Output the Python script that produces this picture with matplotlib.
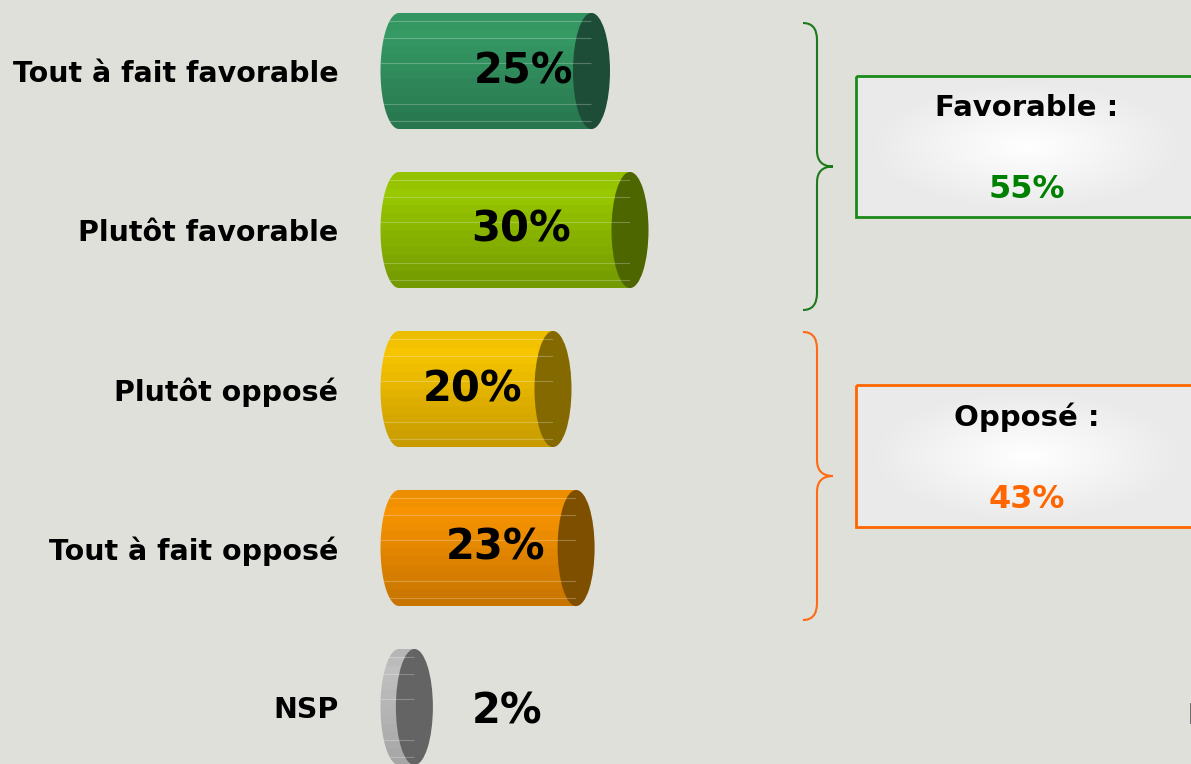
import numpy as np
import matplotlib.pyplot as plt
from matplotlib.path import Path
from matplotlib.patches import PathPatch, Rectangle, Ellipse
from matplotlib.colors import to_rgb

categories = ["Tout à fait favorable", "Plutôt favorable", "Plutôt opposé",
              "Tout à fait opposé", "NSP"]
values = [25, 30, 20, 23, 2]
# where the % label sits inside each bar (in % units)
label_x = [16.2, 15.8, 9.5, 12.6, 14.0]

light = ["#37a068", "#9fd000", "#ffcc00", "#ff9900", "#c4c4c4"]
dark = ["#28764e", "#739a00", "#c89c00", "#c87400", "#a6a6a6"]
face = ["#1d4d37", "#4d6600", "#846900", "#7f4f00", "#646464"]

groups = [("Favorable :", [0, 1], "#008000", "#1a7a1a"),
          ("Opposé :", [2, 3], "#ff6600", "#ff6a10")]

bg = "#e0e0db"
W, H = 1191, 764
px_per = 7.7          # pixels per percent
x0_px = 399           # pixel of 0%
row_px = [71, 230, 389, 548, 707]

fig = plt.figure(figsize=(W / 100, H / 100), dpi=100)
fig.patch.set_facecolor(bg)

# bar axes
ax_left = 360
ax = fig.add_axes([ax_left / W, 0, 1 - ax_left / W, 1])
ax.set_facecolor("none")
ax.set_xlim((ax_left - x0_px) / px_per, (W - x0_px) / px_per)
ax.set_ylim((H - row_px[0]) / 159.0, (0 - row_px[0]) / 159.0)
for s in ax.spines.values():
    s.set_visible(False)
ax.set_xticks([])
ax.set_yticks(range(len(categories)), labels=categories,
              fontsize=20.5, fontweight="bold")
ax.tick_params(axis="y", length=0, pad=15.5)

a = 18.5 / px_per     # half width of end ellipse, data units
b = 0.365             # half height of bar
n_strips = 14

for i, v in enumerate(values):
    yc = i
    t = np.linspace(-np.pi / 2, np.pi / 2, 40)
    pts = list(zip(-a * np.cos(t), yc + b * np.sin(t)))
    pts += [(v, yc + b), (v, yc - b), pts[0]]
    body = PathPatch(Path(pts), facecolor="none", edgecolor="none",
                     transform=ax.transData)
    ax.add_patch(body)
    c1 = np.array(to_rgb(light[i]))
    c2 = np.array(to_rgb(dark[i]))
    h = 2 * b / n_strips
    for k in range(n_strips):
        f = k / (n_strips - 1)
        col = c1 * (1 - f) + c2 * f
        if k < 2:
            col = col * (0.93 + 0.035 * k)
        r = Rectangle((-a - 0.5, yc - b + k * h), v + a + 1, h,
                      facecolor=np.clip(col, 0, 1), edgecolor="none")
        ax.add_patch(r)
        r.set_clip_path(body)
        if k in (1, 3, 6, 11, 13):
            ln, = ax.plot([-a, v], [yc - b + k * h] * 2, color="white",
                          lw=0.8, alpha=0.25)
            ln.set_clip_path(body)
    ax.add_patch(Ellipse((v, yc), 2 * a, 2 * b, facecolor=face[i],
                         edgecolor="none"))
    dy = 0.03 if i == 4 else 0
    ax.text(label_x[i], yc + dy, f"{v}%", ha="center", va="center",
            fontsize=30, fontweight="bold", color="black")

# overlay in pixel coordinates for braces and summary boxes
ov = fig.add_axes([0, 0, 1, 1])
ov.set_xlim(0, W)
ov.set_ylim(H, 0)
ov.axis("off")
ov.set_facecolor("none")


def brace(top, bot, color):
    mid = (top + bot) / 2
    verts = [(803, top), (817, top), (817, top + 17),
             (817, mid - 16),
             (817, mid), (833, mid),
             (817, mid), (817, mid + 16),
             (817, bot - 17),
             (817, bot), (803, bot)]
    codes = [Path.MOVETO, Path.CURVE3, Path.CURVE3, Path.LINETO,
             Path.CURVE3, Path.CURVE3, Path.CURVE3, Path.CURVE3,
             Path.LINETO, Path.CURVE3, Path.CURVE3]
    ov.add_patch(PathPatch(Path(verts, codes), facecolor="none",
                           edgecolor=color, lw=1.5))


gx = np.linspace(-1, 1, 200)
gy = np.linspace(-1, 1, 80)
GX, GY = np.meshgrid(gx, gy)
rad = np.clip(np.sqrt((GX / 0.9) ** 2 + (GY / 0.9) ** 2), 0, 1)
grad = 1.0 - 0.08 * rad
img = np.dstack([grad, grad, grad])

brace_rows = [(23, 310), (332, 620)]
box_rows = [(76, 217), (385, 527)]
for (title, idx, tcol, bcol), (bt, bb), (yt, yb) in zip(groups, brace_rows, box_rows):
    brace(bt, bb, bcol)
    ov.imshow(img, extent=(856, 1198, yb, yt), aspect="auto", zorder=1)
    ov.add_patch(Rectangle((856, yt), 342, yb - yt, facecolor="none",
                           edgecolor=tcol if tcol != "#008000" else "#1a8a1a",
                           lw=2, zorder=2))
    total = sum(values[j] for j in idx)
    ov.text(1027, yt + 32, title, ha="center", va="center", fontsize=21,
            fontweight="bold", color="black", zorder=3)
    ov.text(1027, yt + 114, f"{total}%", ha="center", va="center",
            fontsize=23, fontweight="bold", color=tcol, zorder=3)
ov.set_xlim(0, W)
ov.set_ylim(H, 0)

# cut-off source note at the right edge
ov.text(1187, 716, "B", ha="left", va="center", fontsize=20,
        fontweight="bold", color="black")

fig.savefig("out.png", dpi=100, facecolor=bg)
